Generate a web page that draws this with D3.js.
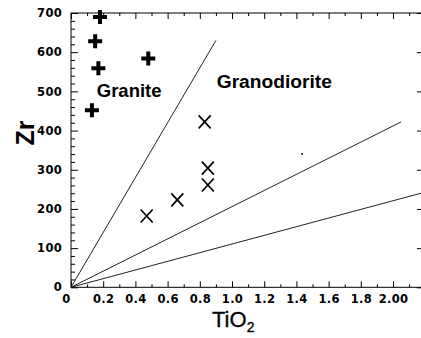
<!DOCTYPE html>
<html>
<head>
<meta charset="utf-8">
<script src="https://cdn.jsdelivr.net/npm/d3@7"></script>
<style>
  body { margin: 0; background: #fff; }
  svg { display: block; }
  .tick text { font-family: "DejaVu Sans", sans-serif; font-weight: bold; font-size: 11.5px; letter-spacing: 0.3px; fill: #000; }
  .tick line { stroke: #000; }
</style>
</head>
<body>
<div id="chart"></div>
<script>
var width = 421,
    height = 338;

// granite samples (plus markers)
var graniteTi = [0.18, 0.15, 0.17, 0.13, 0.48];
var graniteZr = [690, 628, 559, 452, 584];

// granodiorite samples (X markers)
var granodioriteTi = [0.47, 0.66, 0.83, 0.85, 0.85];
var granodioriteZr = [182, 223, 422, 304, 261];

// stray point
var dotTi = [1.435];
var dotZr = [340];

// boundary lines from origin, end points
var lineEndTi = [0.9, 2.05, 2.2];
var lineEndZr = [630, 422, 243];

// ticks
var xMajor = [0, 0.2, 0.4, 0.6, 0.8, 1.0, 1.2, 1.4, 1.6, 1.8, 2.0];
var xLabels = ["0", "0.2", "0.4", "0.6", "0.8", "1.0", "1.2", "1.4", "1.6", "1.8", "2.00"];
var xMinor = [0.1, 0.3, 0.5, 0.7, 0.9, 1.1, 1.3, 1.5, 1.7, 1.9, 2.1];
var yMajor = [0, 100, 200, 300, 400, 500, 600, 700];

var x = d3.scaleLinear().domain([0, 2.18]).range([71, 422]);
var y = d3.scaleLinear().domain([0, 700]).range([287.3, 13]);

var yMinor = d3.range(20, 700, 20).filter(function(v) { return v % 100 !== 0; });

var svg = d3.select("#chart").append("svg")
    .attr("width", width)
    .attr("height", height);

svg.append("rect")
    .attr("width", width)
    .attr("height", height)
    .attr("fill", "#fff");

svg.append("defs").append("clipPath")
    .attr("id", "plot")
  .append("rect")
    .attr("x", x(0))
    .attr("y", y(700))
    .attr("width", x(2.18) - x(0))
    .attr("height", y(0) - y(700));

// axes, ticks inward
var bottomAxis = svg.append("g")
    .attr("transform", "translate(0," + y(0) + ")")
    .call(d3.axisBottom(x).tickValues(xMajor).tickSize(-6).tickPadding(8)
      .tickFormat(function(d, i) { return xLabels[i]; }));
bottomAxis.select(".domain").remove();
bottomAxis.selectAll(".tick text").filter(function(d) { return d === 0; }).attr("dx", -5);

var bottomMinor = svg.append("g")
    .attr("transform", "translate(0," + y(0) + ")")
    .call(d3.axisBottom(x).tickValues(xMinor).tickSize(-3).tickFormat(""));
bottomMinor.select(".domain").remove();

var topAxis = svg.append("g")
    .attr("transform", "translate(0," + y(700) + ")")
    .call(d3.axisTop(x).tickValues(xMajor).tickSize(-6).tickFormat(""));
topAxis.select(".domain").remove();

var topMinor = svg.append("g")
    .attr("transform", "translate(0," + y(700) + ")")
    .call(d3.axisTop(x).tickValues(xMinor).tickSize(-3).tickFormat(""));
topMinor.select(".domain").remove();

var leftAxis = svg.append("g")
    .attr("transform", "translate(" + x(0) + ",0)")
    .call(d3.axisLeft(y).tickValues(yMajor).tickSize(-7).tickPadding(9));
leftAxis.select(".domain").remove();

var leftMinor = svg.append("g")
    .attr("transform", "translate(" + x(0) + ",0)")
    .call(d3.axisLeft(y).tickValues(yMinor).tickSize(-4).tickFormat(""));
leftMinor.select(".domain").remove();

var rightAxis = svg.append("g")
    .attr("transform", "translate(" + x(2.18) + ",0)")
    .call(d3.axisRight(y).tickValues(yMajor).tickSize(-5).tickFormat(""));
rightAxis.select(".domain").remove();

// frame
svg.append("rect")
    .attr("x", x(0))
    .attr("y", y(700))
    .attr("width", x(2.18) - x(0))
    .attr("height", y(0) - y(700))
    .attr("fill", "none")
    .attr("stroke", "#000");

// boundary lines
svg.append("g")
    .attr("clip-path", "url(#plot)")
  .selectAll("line")
  .data(lineEndTi)
  .enter().append("line")
    .attr("x1", x(0))
    .attr("y1", y(0))
    .attr("x2", function(d) { return x(d); })
    .attr("y2", function(d, i) { return y(lineEndZr[i]); })
    .attr("stroke", "#222")
    .attr("stroke-width", 1);

// granite pluses
svg.append("g").selectAll("path")
  .data(graniteTi)
  .enter().append("path")
    .attr("d", function(d, i) {
      var cx = x(d), cy = y(graniteZr[i]);
      return "M" + (cx - 7) + "," + cy + "H" + (cx + 7) + "M" + cx + "," + (cy - 7) + "V" + (cy + 7);
    })
    .attr("stroke", "#000")
    .attr("stroke-width", 4)
    .attr("fill", "none");

// granodiorite crosses
svg.append("g").selectAll("path")
  .data(granodioriteTi)
  .enter().append("path")
    .attr("d", function(d, i) {
      var cx = x(d), cy = y(granodioriteZr[i]);
      return "M" + (cx - 6) + "," + (cy - 6.5) + "L" + (cx + 6) + "," + (cy + 6.5) +
             "M" + (cx + 6) + "," + (cy - 6.5) + "L" + (cx - 6) + "," + (cy + 6.5);
    })
    .attr("stroke", "#000")
    .attr("stroke-width", 1.7)
    .attr("fill", "none");

svg.append("g").selectAll("circle")
  .data(dotTi)
  .enter().append("circle")
    .attr("cx", function(d) { return x(d); })
    .attr("cy", function(d, i) { return y(dotZr[i]); })
    .attr("r", 1)
    .attr("fill", "#000");

// field labels
svg.append("text")
    .attr("x", x(0.16))
    .attr("y", y(485))
    .attr("font-family", "Liberation Sans, Arial, sans-serif")
    .attr("font-weight", "bold")
    .attr("font-size", 18.5)
    .text("Granite");

svg.append("text")
    .attr("x", x(0.905))
    .attr("y", y(508))
    .attr("font-family", "Liberation Sans, Arial, sans-serif")
    .attr("font-weight", "bold")
    .attr("font-size", 19.2)
    .text("Granodiorite");

// axis titles
svg.append("text")
    .attr("transform", "translate(34,133) rotate(-90)")
    .attr("text-anchor", "middle")
    .attr("font-family", "Liberation Sans, Arial, sans-serif")
    .attr("font-weight", "bold")
    .attr("font-size", 25)
    .text("Zr");

var xt = svg.append("text")
    .attr("x", 212)
    .attr("y", 327)
    .attr("font-family", "Liberation Sans, Arial, sans-serif")
    .attr("font-size", 22)
    .attr("stroke", "#000")
    .attr("stroke-width", 0.3)
    .text("TiO");
xt.append("tspan")
    .attr("dy", 5)
    .attr("font-size", 14)
    .text("2");
</script>
</body>
</html>
